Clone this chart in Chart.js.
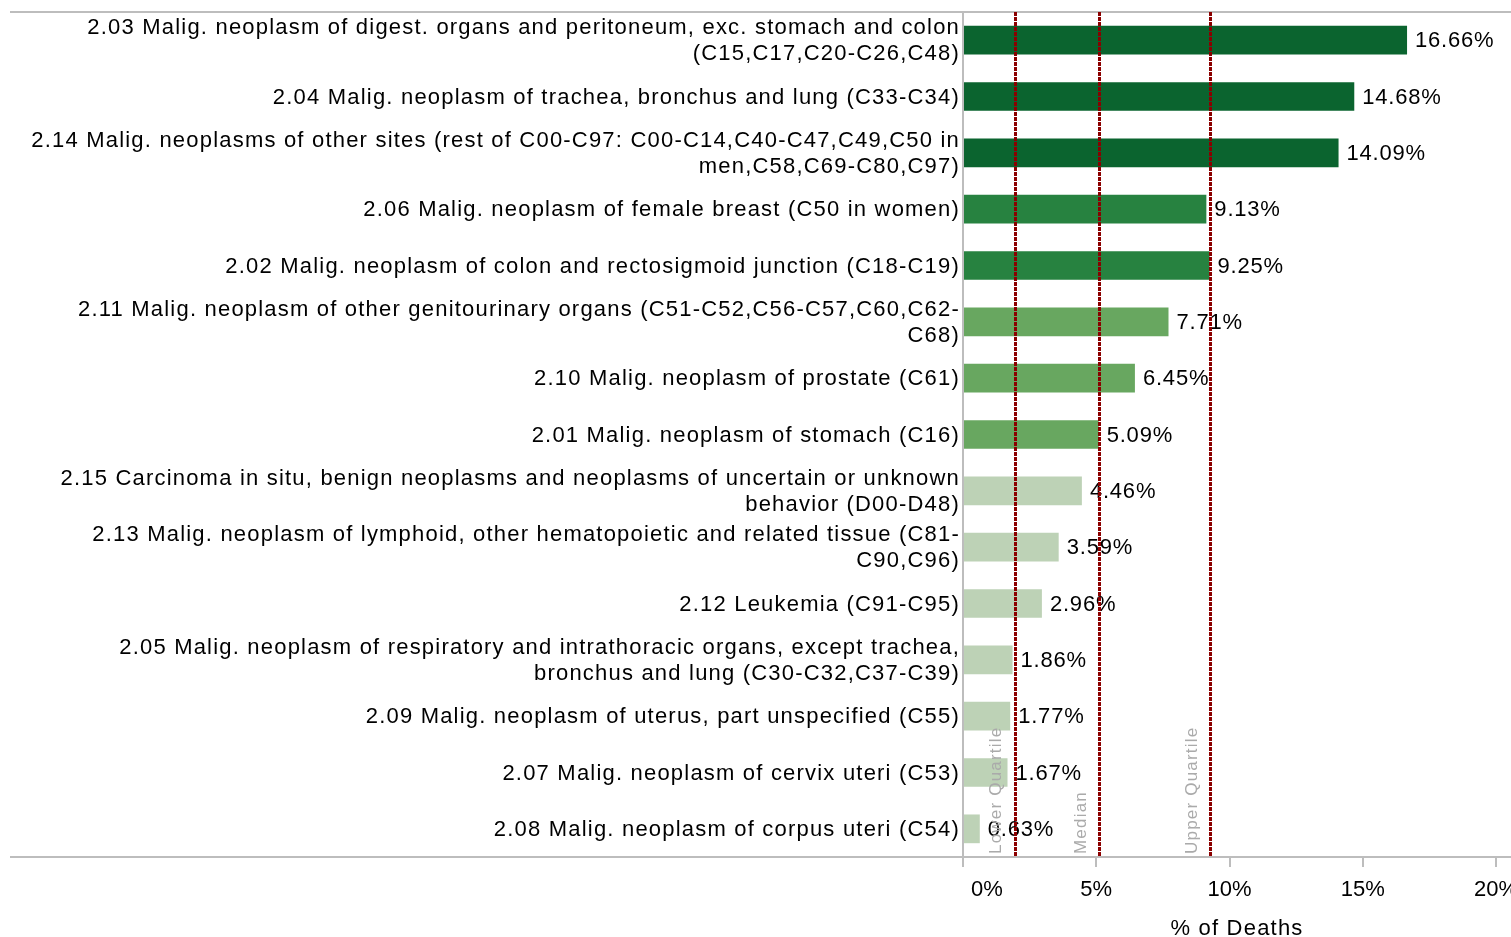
<!DOCTYPE html>
<html>
<head>
<meta charset="utf-8">
<script src="https://cdn.jsdelivr.net/npm/chart.js@4/dist/chart.umd.min.js"></script>
<style>
  html, body { margin: 0; padding: 0; background: #ffffff; }
  #wrap { width: 1511px; height: 937px; position: relative; }
</style>
</head>
<body>
<div id="wrap"><canvas id="c"></canvas></div>
<script>
// ---- data ----
const categories = [
  ["2.03 Malig. neoplasm of digest. organs and peritoneum, exc. stomach and colon", "(C15,C17,C20-C26,C48)"],
  "2.04 Malig. neoplasm of trachea, bronchus and lung (C33-C34)",
  ["2.14 Malig. neoplasms of other sites (rest of C00-C97: C00-C14,C40-C47,C49,C50 in", "men,C58,C69-C80,C97)"],
  "2.06 Malig. neoplasm of female breast (C50 in women)",
  "2.02 Malig. neoplasm of colon and rectosigmoid junction (C18-C19)",
  ["2.11 Malig. neoplasm of other genitourinary organs (C51-C52,C56-C57,C60,C62-", "C68)"],
  "2.10 Malig. neoplasm of prostate (C61)",
  "2.01 Malig. neoplasm of stomach (C16)",
  ["2.15 Carcinoma in situ, benign neoplasms and neoplasms of uncertain or unknown", "behavior (D00-D48)"],
  ["2.13 Malig. neoplasm of lymphoid, other hematopoietic and related tissue (C81-", "C90,C96)"],
  "2.12 Leukemia (C91-C95)",
  ["2.05 Malig. neoplasm of respiratory and intrathoracic organs, except trachea,", "bronchus and lung (C30-C32,C37-C39)"],
  "2.09 Malig. neoplasm of uterus, part unspecified (C55)",
  "2.07 Malig. neoplasm of cervix uteri (C53)",
  "2.08 Malig. neoplasm of corpus uteri (C54)"
];
const pctDeaths = [16.66, 14.68, 14.09, 9.13, 9.25, 7.71, 6.45, 5.09, 4.46, 3.59, 2.96, 1.86, 1.77, 1.67, 0.63];
const xTickValues = [0, 5, 10, 15, 20];
const quartileNames = ["Lower Quartile", "Median", "Upper Quartile"];
const quartileValues = [1.94, 5.11, 9.27];
const xAxisTitle = "% of Deaths";

// ---- styles ----
const C1 = "#0b642f", C2 = "#278240", C3 = "#68a760", C4 = "#bdd2b6";
const barColors = [C1, C1, C1, C2, C2, C3, C3, C3, C4, C4, C4, C4, C4, C4, C4];
const FONT = "'Liberation Sans', Arial, sans-serif";
const FS = 22;
const GRAY = "#bdbdbd";
const LS = "1.2px";

const decorPlugin = {
  id: "decor",
  beforeLayout(chart) { chart.ctx.letterSpacing = LS; },
  beforeDraw(chart) { chart.ctx.letterSpacing = LS; },
  beforeDatasetsDraw(chart) {
    const { ctx, chartArea: a, width } = chart;
    ctx.save();
    ctx.strokeStyle = GRAY;
    ctx.lineWidth = 2;
    ctx.beginPath();
    ctx.moveTo(10, a.top); ctx.lineTo(width, a.top);
    ctx.moveTo(10, a.bottom); ctx.lineTo(width, a.bottom);
    ctx.moveTo(a.left, a.top); ctx.lineTo(a.left, a.bottom);
    ctx.stroke();
    ctx.restore();
  },
  afterDatasetsDraw(chart) {
    const { ctx } = chart;
    const meta = chart.getDatasetMeta(0);
    ctx.save();
    ctx.letterSpacing = "0.8px";
    ctx.font = FS + "px " + FONT;
    ctx.fillStyle = "#000";
    ctx.textAlign = "left";
    ctx.textBaseline = "middle";
    meta.data.forEach((bar, i) => {
      ctx.fillText(pctDeaths[i].toFixed(2) + "%", bar.x + 8, bar.y + 1);
    });
    ctx.restore();
  },
  afterDraw(chart) {
    const { ctx, chartArea: a } = chart;
    const xs = chart.scales.x;
    ctx.save();
    // x tick labels
    ctx.letterSpacing = "0px";
    ctx.font = "22px " + FONT;
    ctx.fillStyle = "#000";
    ctx.textAlign = "center";
    ctx.textBaseline = "middle";
    xTickValues.forEach(v => {
      const px = xs.getPixelForValue(v) + (v === 0 ? 24 : 0);
      ctx.fillText(v + "%", px, a.bottom + 33);
    });
    // quartile labels
    ctx.letterSpacing = "1.2px";
    ctx.font = "17px " + FONT;
    ctx.fillStyle = "#aaaaaa";
    quartileValues.forEach((v, i) => {
      const px = xs.getPixelForValue(v);
      ctx.save();
      ctx.translate(px - 18, a.bottom - 3);
      ctx.rotate(-Math.PI / 2);
      ctx.textAlign = "left";
      ctx.textBaseline = "middle";
      ctx.fillText(quartileNames[i], 0, 0);
      ctx.restore();
    });
    // quartile lines
    ctx.strokeStyle = "#8b0000";
    ctx.lineWidth = 3;
    ctx.setLineDash([4, 1]);
    quartileValues.forEach(v => {
      const px = Math.round(xs.getPixelForValue(v)) + 0.5;
      ctx.beginPath();
      ctx.moveTo(px, a.top);
      ctx.lineTo(px, a.bottom);
      ctx.stroke();
    });
    ctx.restore();
  }
};

new Chart(document.getElementById("c"), {
  type: "bar",
  data: {
    labels: categories,
    datasets: [{
      data: pctDeaths,
      backgroundColor: barColors,
      borderWidth: 0,
      barPercentage: 0.51,
      categoryPercentage: 1.0
    }]
  },
  plugins: [decorPlugin],
  options: {
    indexAxis: "y",
    responsive: true,
    maintainAspectRatio: false,
    animation: false,
    layout: { padding: { top: 12, left: 0, right: 0, bottom: 0 } },
    plugins: { legend: { display: false }, tooltip: { enabled: false } },
    scales: {
      x: {
        type: "linear",
        min: 0,
        max: 20.56,
        afterBuildTicks: (s) => { s.ticks = xTickValues.map(v => ({ value: v })); },
        afterFit: (s) => { s.height = 80; s.paddingLeft = 0; s.paddingRight = 0; },
        grid: { drawOnChartArea: false, drawTicks: true, tickLength: 10, color: GRAY, lineWidth: 2 },
        border: { display: false },
        ticks: { color: "rgba(0,0,0,0)", font: { size: 20, family: FONT } },
        title: { display: true, text: xAxisTitle, color: "#000", font: { size: 22, family: FONT, lineHeight: 1 }, padding: { top: 0, bottom: -3 } }
      },
      y: {
        afterFit: (s) => { s.width = 963; s.paddingTop = 0; s.paddingBottom = 0; },
        grid: { display: false, drawTicks: false },
        border: { display: false },
        ticks: { color: "#000", padding: 3, labelOffset: 1, font: { size: FS, family: FONT, lineHeight: 1.19 } }
      }
    }
  }
});
</script>
</body>
</html>
